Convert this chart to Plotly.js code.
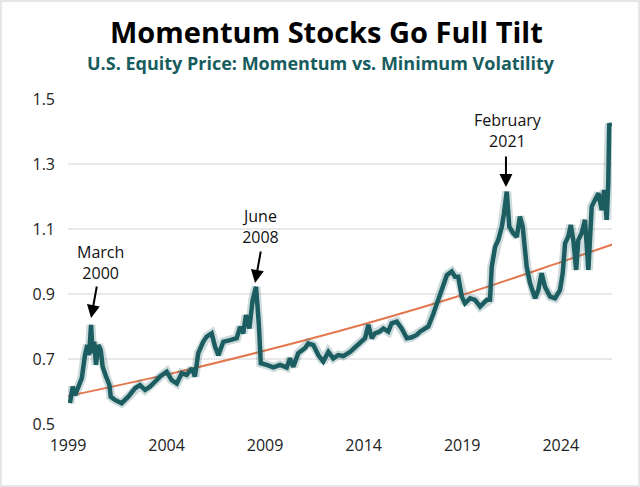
<!DOCTYPE html>
<html>
<head>
<meta charset="utf-8">
<script src="https://cdn.plot.ly/plotly-3.0.1.min.js"></script>
<style>
  html, body { margin: 0; padding: 0; background: #fff; }
  #wrap { position: relative; width: 640px; height: 487px; }
  #chart { width: 640px; height: 487px; }
  #frame { position: absolute; left: 0; top: 0; width: 636px; height: 483px;
           border: 2px solid #e6e6e6; pointer-events: none; }
</style>
</head>
<body>
<div id="wrap">
  <div id="chart"></div>
  <div id="frame"></div>
</div>
<script>
// Relative price: momentum factor vs. minimum volatility (decimal years)
const years = [
  1999.10, 1999.24, 1999.36, 1999.52, 1999.70, 1999.86, 1999.98, 2000.07, 2000.17, 2000.25,
  2000.33, 2000.42, 2000.54, 2000.66, 2000.76, 2000.93, 2001.10, 2001.17, 2001.38, 2001.72,
  2002.06, 2002.40, 2002.65, 2002.91, 2003.16, 2003.41, 2003.67, 2004.01, 2004.26, 2004.52,
  2004.77, 2005.02, 2005.28, 2005.44, 2005.61, 2005.86, 2006.04, 2006.29, 2006.46, 2006.63,
  2006.88, 2007.22, 2007.56, 2007.73, 2007.89, 2008.03, 2008.20, 2008.37, 2008.54, 2008.68,
  2008.78, 2009.08, 2009.42, 2009.76, 2010.10, 2010.26, 2010.43, 2010.68, 2011.02, 2011.19,
  2011.45, 2011.70, 2011.95, 2012.21, 2012.46, 2012.71,
  2012.97, 2013.31, 2013.65, 2013.90, 2014.07, 2014.24,
  2014.41, 2014.58, 2014.80, 2015.00, 2015.25, 2015.42, 2015.68, 2015.93, 2016.19, 2016.44,
  2016.69, 2016.86, 2017.28, 2017.54, 2017.79, 2018.04, 2018.22, 2018.47, 2018.64, 2018.80,
  2018.98, 2019.14, 2019.40, 2019.65, 2019.91, 2020.25, 2020.41, 2020.50, 2020.67, 2020.83,
  2021.01, 2021.12, 2021.26, 2021.39, 2021.59, 2021.77, 2021.93, 2022.07, 2022.27, 2022.44,
  2022.70, 2022.86, 2023.03, 2023.20, 2023.46, 2023.71, 2023.96, 2024.10, 2024.22, 2024.38,
  2024.51, 2024.64, 2024.78, 2024.89, 2025.06, 2025.23, 2025.40, 2025.57, 2025.74, 2025.91,
  2026.08, 2026.20, 2026.33, 2026.41, 2026.46, 2026.53
];
const momentumRatio = [
  0.564, 0.615, 0.589, 0.610, 0.641, 0.712, 0.743, 0.712, 0.805, 0.718,
  0.753, 0.682, 0.743, 0.728, 0.676, 0.646, 0.620, 0.584, 0.574, 0.564,
  0.584, 0.610, 0.620, 0.605, 0.615, 0.630, 0.646, 0.661, 0.635, 0.625,
  0.656, 0.651, 0.671, 0.646, 0.718, 0.753, 0.769, 0.779, 0.738, 0.712,
  0.753, 0.758, 0.764, 0.799, 0.779, 0.835, 0.794, 0.882, 0.922, 0.810,
  0.687, 0.682, 0.674, 0.682, 0.674, 0.702, 0.676, 0.718, 0.733, 0.748,
  0.743, 0.712, 0.692, 0.722, 0.702, 0.712,
  0.709, 0.722, 0.743, 0.758, 0.764, 0.805,
  0.764, 0.779, 0.784, 0.794, 0.784, 0.810, 0.815, 0.794, 0.764, 0.767,
  0.774, 0.784, 0.800, 0.840, 0.882, 0.922, 0.958, 0.969, 0.953, 0.953,
  0.892, 0.871, 0.887, 0.882, 0.861, 0.882, 0.882, 0.984, 1.045, 1.066,
  1.107, 1.148, 1.215, 1.107, 1.087, 1.076, 1.138, 1.107, 0.984, 0.933,
  0.887, 0.912, 0.964, 0.922, 0.892, 0.887, 0.912, 0.964, 1.056, 1.076,
  1.112, 1.066, 0.974, 1.066, 1.087, 1.128, 0.974, 1.169, 1.190, 1.210,
  1.158, 1.220, 1.128, 1.240, 1.425, 1.415
];

// Long-run trend line
const trendYears = [1999.0, 2004.0, 2009.0, 2014.0, 2019.0, 2024.0, 2026.7];
const trendValues = [0.586, 0.652, 0.726, 0.807, 0.897, 0.998, 1.054];

// Axis ticks
const xTicks = [1999, 2004, 2009, 2014, 2019, 2024];
const yTicks = [0.5, 0.7, 0.9, 1.1, 1.3, 1.5];

const teal = '#1b5d60';
const font = 'Open Sans, Noto Sans, sans-serif';

const traces = [
  { x: trendYears, y: trendValues, type: 'scatter', mode: 'lines',
    line: { color: '#e5774f', width: 2, shape: 'spline' }, hoverinfo: 'skip' },
  { x: years, y: momentumRatio, type: 'scatter', mode: 'lines',
    line: { color: 'rgba(27,93,96,0.22)', width: 9 }, hoverinfo: 'skip' },
  { x: years, y: momentumRatio, type: 'scatter', mode: 'lines',
    line: { color: teal, width: 4.5 } }
];

const arrowStyle = { text: '', showarrow: true, arrowhead: 2, arrowsize: 1.3,
                     arrowwidth: 2, arrowcolor: '#000', axref: 'pixel', ayref: 'pixel' };
const labelStyle = { showarrow: false, font: { family: font, size: 16, color: '#111' },
                     xanchor: 'center', yanchor: 'middle' };

const layout = {
  width: 640, height: 487,
  margin: { l: 68, r: 28, t: 99, b: 63 },
  paper_bgcolor: '#ffffff', plot_bgcolor: '#ffffff',
  showlegend: false,
  title: {
    text: '<b>Momentum Stocks Go Full Tilt</b>',
    font: { family: font, size: 29, color: '#000' },
    x: 0.51, xanchor: 'center', y: 0.932, yanchor: 'middle'
  },
  xaxis: {
    range: [1999, 2026.6], tickvals: xTicks, ticktext: xTicks.map(String),
    showgrid: false, zeroline: false, showline: false, ticks: '',
    ticklabelstandoff: 10,
    tickfont: { family: font, size: 16, color: '#222' }
  },
  yaxis: {
    range: [0.5, 1.5], tickvals: yTicks, ticktext: yTicks.map(v => v.toFixed(1)),
    showgrid: true, gridcolor: '#e9e9e9', gridwidth: 1.5, zeroline: false, showline: false,
    ticks: '', ticklabelstandoff: 12,
    tickfont: { family: font, size: 16, color: '#222' }
  },
  annotations: [
    { xref: 'paper', yref: 'paper', x: 0.465, y: 1.111, showarrow: false,
      text: '<b>U.S. Equity Price: Momentum vs. Minimum Volatility</b>',
      font: { family: font, size: 18, color: '#175c5e' }, xanchor: 'center', yanchor: 'middle' },

    Object.assign({ x: 2000.17, y: 0.826, ax: 6, ay: -33 }, arrowStyle),
    Object.assign({ x: 2000.67, y: 0.998, text: 'March<br>2000' }, labelStyle),

    Object.assign({ x: 2008.49, y: 0.934, ax: 6, ay: -33 }, arrowStyle),
    Object.assign({ x: 2008.79, y: 1.109, text: 'June<br>2008' }, labelStyle),

    Object.assign({ x: 2021.22, y: 1.229, ax: 0, ay: -32 }, arrowStyle),
    Object.assign({ x: 2021.32, y: 1.402, text: 'February<br>2021' }, labelStyle)
  ]
};

Plotly.newPlot('chart', traces, layout, { displayModeBar: false, staticPlot: true });
</script>
</body>
</html>
